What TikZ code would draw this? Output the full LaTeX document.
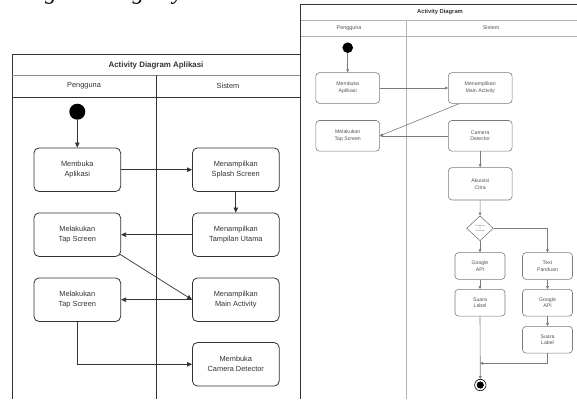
\documentclass[tikz,border=0pt]{standalone}
\usepackage{fontspec}
\setmainfont{Liberation Sans}
\newfontfamily\docserif{Liberation Serif}
\usetikzlibrary{arrows.meta,shapes.geometric}
\definecolor{lline}{HTML}{333333}
\definecolor{ltext}{HTML}{333333}
\definecolor{lgrid}{HTML}{8C8C8C}
\definecolor{rline}{HTML}{7A7A7A}
\definecolor{rgrid}{HTML}{B4B4B4}
\definecolor{rtext}{HTML}{555555}
\begin{document}
\begin{tikzpicture}[x=1pt,y=-1pt,
 lbox/.style={draw=lline,line width=0.8pt,rounded corners=5pt,minimum width=86.7pt,minimum height=43.5pt,inner sep=0pt,align=center,text=ltext,font=\fontsize{7.4}{10}\selectfont},
 larrow/.style={draw=lline,line width=0.7pt,-{Triangle[length=5pt,width=4.5pt]}},
 lhead/.style={text=ltext,font=\fontsize{7.4}{9}\selectfont,inner sep=0pt},
 rbox/.style={draw=rline,line width=0.6pt,rounded corners=3.5pt,minimum width=63.7pt,minimum height=30.7pt,inner sep=0pt,align=center,text=rtext,font=\fontsize{5.2}{6.8}\selectfont},
 rsmall/.style={rbox,minimum width=50pt,minimum height=26.7pt},
 rarrow/.style={draw=rline,line width=0.6pt,-{Triangle[length=3pt,width=2.8pt]}},
 rhead/.style={text=rtext,font=\fontsize{5.4}{6.5}\selectfont,inner sep=0pt},
]
\useasboundingbox (0,0) rectangle (577,399);
\fill[white] (0,0) rectangle (577,399);

% cut-off line of body text at the top
\begin{scope}
\clip (0,0) rectangle (577,399);
\node[anchor=base west,inner sep=0pt,font=\docserif\itshape\fontsize{23}{26}\selectfont] (toptext) at (15.5,-0.6) {diagram dengan yaitu};
\end{scope}

% ---------------- left diagram ----------------
\draw[lline,line width=0.8pt] (300,54) -- (12,54) -- (12,399);
\draw[lgrid,line width=0.9pt] (12,75) -- (300,75);
\draw[lline,line width=0.7pt] (12,97) -- (300,97);
\draw[lline,line width=0.7pt] (156,75) -- (156,399);
\node[text=ltext,font=\bfseries\fontsize{7.9}{9}\selectfont] (ltitle) at (156,65) {Activity Diagram Aplikasi};
\node[lhead] (lh1) at (84,86) {Pengguna};
\node[lhead] (lh2) at (228,86) {Sistem};

\node[circle,fill=black,minimum size=16pt,inner sep=0pt] (lstart) at (77.3,111.7) {};
\node[lbox] (la1) at (77.3,169.7) {Membuka\\Aplikasi};
\node[lbox] (ls1) at (235.8,169.7) {Menampilkan\\Splash Screen};
\node[lbox] (lt1) at (77.3,234.7) {Melakukan\\Tap Screen};
\node[lbox] (ls2) at (235.8,234.7) {Menampilkan\\Tampilan Utama};
\node[lbox] (lt2) at (77.3,299.7) {Melakukan\\Tap Screen};
\node[lbox] (ls3) at (235.8,299.7) {Menampilkan\\Main Activity};
\node[lbox] (ls4) at (235.8,364.3) {Membuka\\Camera Detector};

\draw[larrow] (lstart) -- (la1);
\draw[larrow] (la1) -- (ls1);
\draw[larrow] (ls1) -- (ls2);
\draw[larrow] (ls2) -- (lt1);
\draw[larrow] ([xshift=-1pt,yshift=2.5pt]lt1.south east) -- (ls3.west);
\draw[larrow] (ls3) -- (lt2);
\draw[larrow] (lt2.south) |- (ls4.west);

% ---------------- right diagram ----------------
\fill[white] (300,4) rectangle (577,399);
\draw[rgrid,line width=0.9pt] (300,20) -- (577,20);
\draw[rgrid,line width=0.9pt] (300,36) -- (577,36);
\draw[rgrid,line width=0.9pt] (406,20) -- (406,399);
\draw[lline,line width=0.8pt] (300,399) -- (300,4) -- (577,4);
\node[text=ltext,font=\bfseries\fontsize{5.8}{7}\selectfont] (rtitle) at (440,12) {Activity Diagram};
\node[rhead] (rh1) at (349,28) {Pengguna};
\node[rhead] (rh2) at (491,28) {Sistem};

\node[circle,fill=black,minimum size=10.6pt,inner sep=0pt] (rstart) at (347.7,47.7) {};
\node[rbox] (ra1) at (347.7,88) {Membuka\\Aplikasi};
\node[rbox] (rs1) at (480.2,88) {Menampilkan\\Main Activity};
\node[rbox] (rt1) at (347.7,135.8) {Melakukan\\Tap Screen};
\node[rbox] (rs2) at (480.2,135.8) {Camera\\Detector};
\node[rbox,minimum height=32.3pt] (rs3) at (480.2,183.8) {Akuisisi\\Citra};
\node[diamond,draw=rline,line width=0.6pt,minimum width=26.7pt,minimum height=25pt,inner sep=0pt,align=center,text=rtext,font=\fontsize{1.9}{2.6}\selectfont] (rd) at (480,228.3) {Confidence\\>=\\Threshold};
\node[rsmall] (rg1) at (480,266) {Google\\API};
\node[rsmall] (rp) at (547.5,266) {Text\\Panduan};
\node[rsmall] (rl1) at (480,302.7) {Suara\\Label};
\node[rsmall] (rg2) at (547.5,302.7) {Google\\API};
\node[rsmall] (rl2) at (547.5,339.7) {Suara\\Label};
\node[circle,draw=black,line width=0.6pt,minimum size=11.4pt,inner sep=0pt] (rend) at (480.3,385) {};
\node[circle,fill=black,minimum size=7.2pt,inner sep=0pt] (rendin) at (rend) {};
\coordinate (rmerge) at (480,363.3);

\draw[rarrow] (rstart) -- (ra1);
\draw[rarrow] (ra1) -- (rs1);
\draw[rarrow] ([xshift=-21pt]rs1.south) -- (rt1.east);
\draw[rarrow] (rs2) -- (rt1);
\draw[rarrow] (rs2) -- (rs3);
\draw[rarrow] (rs3) -- (rd);
\draw[rarrow] (rd) -- (rg1);
\draw[rarrow] (rd.east) -| (rp.north);
\draw[rarrow] (rg1) -- (rl1);
\draw[rarrow] (rp) -- (rg2);
\draw[rarrow] (rg2) -- (rl2);
\draw[rarrow] (rl1.south) -- (rend.north);
\draw[rarrow] (rl2.south) |- (rmerge);
\end{tikzpicture}
\end{document}
